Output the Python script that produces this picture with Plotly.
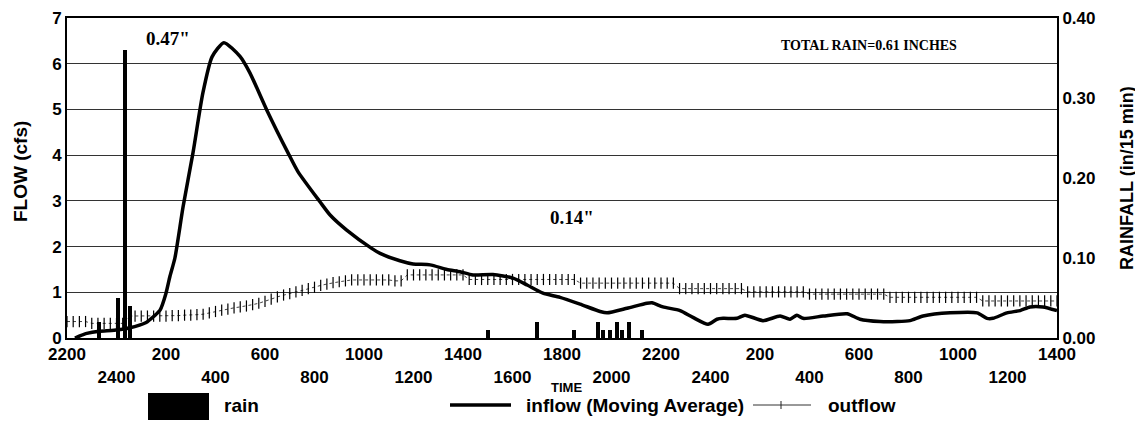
import plotly.graph_objects as go

# ---------------- data ----------------
# time axis: hours elapsed since 22:00 on the first day (axis spans 40 h)
tick_hours = list(range(0, 41, 2))
tick_labels = ["2200", "2400", "200", "400", "600", "800", "1000", "1200", "1400",
               "1600", "1800", "2000", "2200", "2400", "200", "400", "600", "800",
               "1000", "1200", "1400"]

# rainfall (in / 15 min)
rain_hours = [1.3, 2.05, 2.35, 2.55, 17.0, 19.0, 20.5, 21.47, 21.67, 21.94, 22.21, 22.44, 22.71, 23.22]
rain_in = [0.02, 0.05, 0.36, 0.04, 0.01, 0.02, 0.01, 0.02, 0.01, 0.01, 0.02, 0.01, 0.02, 0.01]

# inflow (moving average), cfs
inflow_hours = [0.32, 0.8, 1.3, 1.9, 2.5, 3.2, 3.5, 3.76, 4.0, 4.16, 4.36, 4.69, 5.09, 5.49,
                5.86, 6.34, 6.99, 7.39, 8.07, 8.93, 9.33, 10.22, 10.63, 11.30, 12.31, 12.65,
                13.45, 13.98, 14.67, 15.35, 15.88, 16.40, 17.21, 18.02, 18.59, 19.23, 19.92,
                20.73, 21.54, 21.82, 22.63, 23.43, 23.64, 24.08, 24.77, 25.29, 25.90, 26.26,
                26.51, 27.07, 27.39, 28.12, 28.81, 29.21, 29.49, 29.74, 30.55, 31.52, 32.04,
                32.85, 33.54, 34.06, 34.59, 35.68, 36.77, 37.17, 37.41, 37.98, 38.51, 38.91,
                39.43, 40.0]
inflow_cfs = [0.0, 0.10, 0.15, 0.17, 0.22, 0.34, 0.47, 0.61, 0.98, 1.35, 1.75, 2.87, 4.05, 5.36,
              6.15, 6.46, 6.16, 5.80, 4.99, 4.05, 3.64, 2.98, 2.69, 2.36, 1.96, 1.85,
              1.69, 1.62, 1.60, 1.50, 1.45, 1.38, 1.39, 1.31, 1.16, 0.98, 0.89,
              0.74, 0.58, 0.55, 0.65, 0.76, 0.77, 0.68, 0.60, 0.45, 0.30, 0.41,
              0.43, 0.43, 0.50, 0.38, 0.48, 0.41, 0.50, 0.43, 0.48, 0.53, 0.41,
              0.36, 0.36, 0.38, 0.48, 0.55, 0.55, 0.43, 0.43, 0.55, 0.60, 0.68,
              0.68, 0.60]

# outflow, cfs, one reading every 15 minutes from 22:00
outflow_cfs = ([0.36] * 4 + [0.32] * 6 + [0.48] * 6
               + [0.48, 0.49, 0.49, 0.50, 0.50, 0.51]
               + [0.52, 0.55, 0.58, 0.61, 0.63, 0.66, 0.68, 0.70, 0.73, 0.76, 0.80, 0.85,
                  0.90, 0.94, 0.97, 1.01, 1.04, 1.08, 1.11, 1.15, 1.18, 1.21, 1.23, 1.25, 1.27]
               + [1.27] * 6 + [1.25] * 2 + [1.38] * 10 + [1.28] * 18 + [1.20] * 16
               + [1.08] * 11 + [1.01] * 10 + [0.96] * 13 + [0.89] * 15 + [0.81] * 13)
outflow_hours = [i * 0.25 for i in range(len(outflow_cfs))]

# ---------------- figure ----------------
# the page body adds an 8 px offset, so the figure is 8 px smaller and margins shifted
OFF = 8
W, H = 1143 - OFF, 428 - OFF
L, R, T, B = 67 - OFF, 86, 18 - OFF, 90
PW, PH = W - L - R, H - T - B  # 990 x 320


def px(xpix):  # page pixel -> paper x
    return (xpix - OFF - L) / PW


def py(ypix):  # page pixel -> paper y
    return (T + PH - (ypix - OFF)) / PH


SANS = "Liberation Sans, Arial, sans-serif"
SERIF = "Liberation Serif, Times New Roman, serif"

fig = go.Figure()

fig.add_trace(go.Bar(x=rain_hours, y=rain_in, width=0.16, marker=dict(color="black", line=dict(width=0)),
                     name="rain", yaxis="y2", showlegend=False))
fig.add_trace(go.Scatter(x=outflow_hours, y=outflow_cfs, mode="lines+markers", name="outflow",
                         line=dict(color="#444444", width=1, dash="dot"),
                         marker=dict(symbol="line-ns", size=8, line=dict(color="black", width=1.2)),
                         showlegend=False))
fig.add_trace(go.Scatter(x=inflow_hours, y=inflow_cfs, mode="lines", name="inflow (Moving Average)",
                         line=dict(color="black", width=3.5, shape="spline", smoothing=0.6),
                         showlegend=False))

tick_text = [t if i % 2 == 0 else "<br>" + t for i, t in enumerate(tick_labels)]
TICKFONT = dict(family=SANS, size=17, color="black", weight="bold")

fig.update_layout(
    width=W, height=H,
    margin=dict(l=L, r=R, t=T, b=B, autoexpand=False),
    paper_bgcolor="white", plot_bgcolor="white",
    bargap=0,
    xaxis=dict(range=[0, 40], tickvals=tick_hours, ticktext=tick_text, showgrid=False,
               zeroline=False, showline=True, linecolor="black", linewidth=2, mirror=True,
               ticks="", tickfont=TICKFONT, automargin=False),
    yaxis=dict(range=[0, 7], dtick=1, showgrid=True, gridcolor="#333333", gridwidth=1,
               zeroline=False, showline=True, linecolor="black", linewidth=2, ticks="",
               tickfont=TICKFONT, automargin=False),
    yaxis2=dict(range=[0, 0.4], overlaying="y", side="right", tickvals=[0, 0.1, 0.2, 0.3, 0.4],
                tickformat=".2f", showgrid=False, zeroline=False, showline=True, linecolor="black",
                linewidth=2, ticks="", tickfont=TICKFONT, automargin=False),
)


def page_text(text, xpix, ypix, size, xanchor="center", angle=0, family=SANS):
    return dict(text=text, xref="paper", yref="paper", x=px(xpix), y=py(ypix),
                xanchor=xanchor, yanchor="middle", showarrow=False, textangle=angle,
                font=dict(family=family, size=size, color="black", weight="bold"))


ann = []
# axis titles
ann.append(page_text("FLOW (cfs)", 20, 172, 19, angle=-90))
ann.append(page_text("RAINFALL (in/15 min)", 1127, 178, 18, angle=-90))
ann.append(page_text("TIME", 566, 387, 13))
# in-plot labels
for txt, xv, yv, size in [('0.47"', 4.1, 6.55, 19), ('0.14"', 20.4, 2.63, 19),
                          ("TOTAL RAIN=0.61 INCHES", 32.4, 6.4, 14)]:
    ann.append(dict(text=txt, x=xv, y=yv, xref="x", yref="y", showarrow=False,
                    xanchor="center", yanchor="middle",
                    font=dict(family=SERIF, size=size, color="black", weight="bold")))

# legend (drawn manually to reproduce the large rain swatch)
leg_y = 405
shapes = [
    dict(type="rect", xref="paper", yref="paper", x0=px(148), x1=px(209), y0=py(393), y1=py(420),
         fillcolor="black", line=dict(width=0)),
    dict(type="line", xref="paper", yref="paper", x0=px(450), x1=px(511), y0=py(leg_y), y1=py(leg_y),
         line=dict(color="black", width=3.5)),
    dict(type="line", xref="paper", yref="paper", x0=px(753), x1=px(811), y0=py(leg_y), y1=py(leg_y),
         line=dict(color="#333333", width=1)),
    dict(type="line", xref="paper", yref="paper", x0=px(781), x1=px(781), y0=py(leg_y - 4),
         y1=py(leg_y + 4), line=dict(color="#222222", width=1)),
]
for txt, xp in [("rain", 222), ("inflow (Moving Average)", 524), ("outflow", 826)]:
    ann.append(page_text(txt, xp, leg_y, 19, xanchor="left"))

fig.update_layout(annotations=ann, shapes=shapes)

fig.write_html("out.html")
